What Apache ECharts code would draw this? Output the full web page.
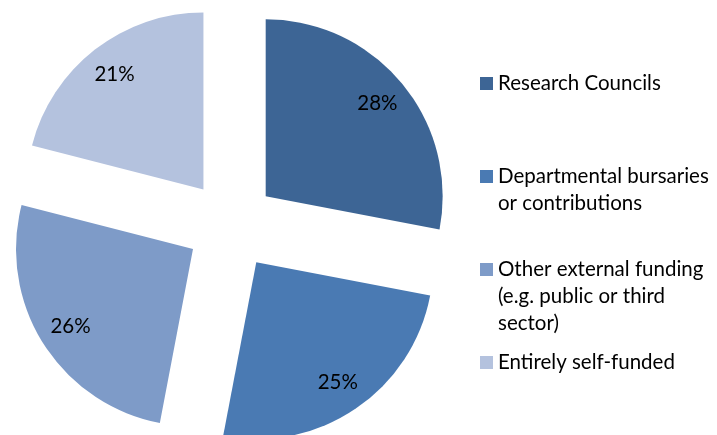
<!DOCTYPE html>
<html>
<head>
<meta charset="utf-8">
<script src="https://cdn.jsdelivr.net/npm/echarts@6/dist/echarts.min.js"></script>
<style>
  html, body { margin: 0; padding: 0; background: #fff; }
  #chart { width: 717px; height: 435px; }
</style>
</head>
<body>
<div id="chart"></div>
<script>
const categories = [
  'Research Councils',
  'Departmental bursaries or contributions',
  'Other external funding (e.g. public or third sector)',
  'Entirely self-funded'
]
const shares = [28, 25, 26, 21]
const colors = ['#3d6595', '#4a7ab3', '#7e9bc8', '#b4c2de']
// wrapped legend text; leading blank lines keep the swatch on the first line
const legendText = [
  'Research Councils',
  '\nDepartmental bursaries\nor contributions',
  '\n\nOther external funding\n(e.g. public or third\nsector)',
  'Entirely self-funded'
]
const legendTops = [70, 136, 202, 349]

const font = 'Lato'
const chart = echarts.init(document.getElementById('chart'), null, { renderer: 'canvas' })

const pieData = categories.map((name, i) => ({
  name,
  value: shares[i],
  selected: true,
  itemStyle: { color: colors[i] }
}))

const labelData = categories.map((name, i) => ({
  name,
  value: shares[i],
  selected: true,
  itemStyle: { color: 'rgba(0,0,0,0)' }
}))

const option = {
  animation: false,
  legend: categories.map((name, i) => ({
    data: [name],
    orient: 'vertical',
    left: 480,
    top: legendTops[i],
    padding: 0,
    icon: 'rect',
    itemWidth: 13,
    itemHeight: 13,
    selectedMode: false,
    formatter: () => legendText[i],
    textStyle: {
      fontFamily: font,
      fontSize: 20.5,
      lineHeight: 27,
      color: '#000'
    }
  })),
  series: [
    {
      type: 'pie',
      center: [231, 225],
      radius: [0, 177],
      startAngle: 90,
      clockwise: true,
      selectedMode: 'multiple',
      selectedOffset: 45,
      silent: true,
      label: { show: false },
      labelLine: { show: false },
      select: { itemStyle: { borderWidth: 0 } },
      data: pieData
    },
    {
      // transparent helper ring so the percent labels sit near the rim
      type: 'pie',
      center: [231, 225],
      radius: [0, 284],
      startAngle: 90,
      clockwise: true,
      selectedMode: 'multiple',
      selectedOffset: 45,
      silent: true,
      z: 3,
      label: {
        show: true,
        position: 'inside',
        formatter: p => p.value + '%',
        fontFamily: font,
        fontSize: 20.5,
        color: '#000'
      },
      labelLine: { show: false },
      select: { itemStyle: { borderWidth: 0 } },
      data: labelData
    }
  ]
}

chart.setOption(option)
</script>
</body>
</html>
